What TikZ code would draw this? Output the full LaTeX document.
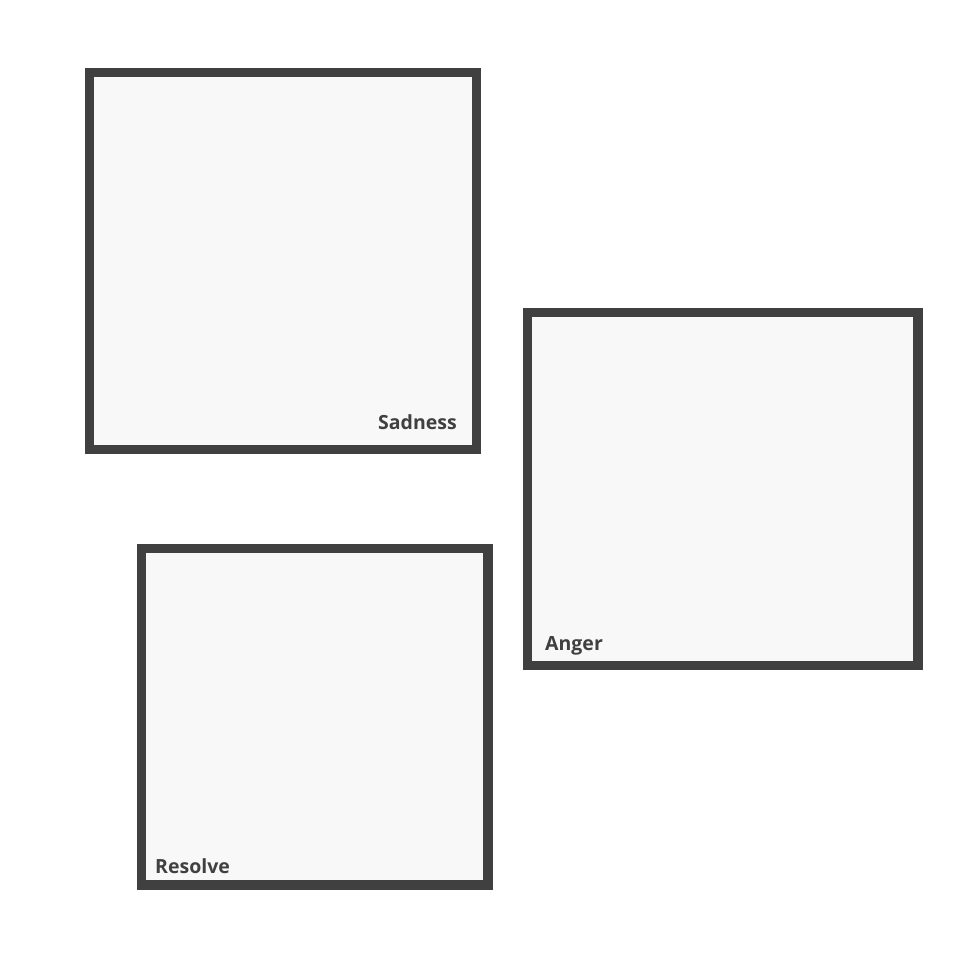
\documentclass[tikz,border=0pt]{standalone}
\usepackage{fontspec}
\newfontfamily\panelfont{Open Sans}
\definecolor{frame}{HTML}{404040}
\definecolor{paper}{HTML}{F8F8F8}
\tikzset{
  panel/.style={draw=frame, fill=paper, line width=9.5pt, rectangle, inner sep=0pt, outer sep=0pt},
  tag/.style={text=frame, font=\panelfont\bfseries\fontsize{19.5}{22}\selectfont, inner sep=0pt}
}
\begin{document}
\begin{tikzpicture}[x=1pt,y=-1pt]
\useasboundingbox (0,0) rectangle (968,968);
% the three panels
\node[panel, minimum width=387pt, minimum height=377pt] (sad) at (283,261) {};
\node[panel, minimum width=390.5pt, minimum height=353pt] (anger) at (722.75,489) {};
\node[panel, minimum width=346.5pt, minimum height=336.5pt] (resolve) at (314.75,716.75) {};
% corner tags
\node[tag, anchor=base east] (sadtag) at (457,429) {Sadness};
\node[tag, anchor=base west] (angertag) at (545,650) {Anger};
\node[tag, anchor=base west] (resolvetag) at (155,873) {Resolve};
\end{tikzpicture}
\end{document}
